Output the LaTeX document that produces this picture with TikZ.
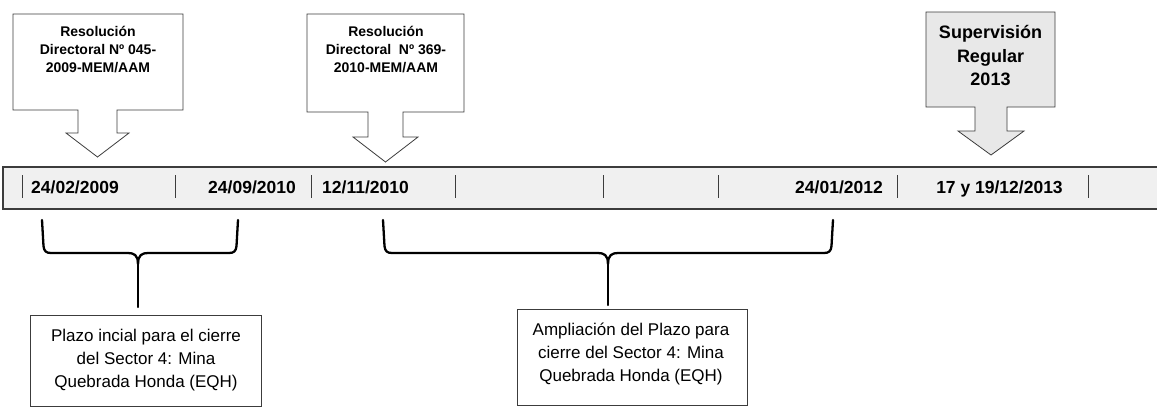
\documentclass[tikz,border=0pt]{standalone}
\usepackage{fontspec}
\setmainfont{Liberation Sans}
\usetikzlibrary{calc}
\definecolor{barfill}{RGB}{240,240,240}
\definecolor{boxgray}{RGB}{232,232,232}
\definecolor{lineg}{RGB}{60,60,60}
\begin{document}
\begin{tikzpicture}[x=1pt,y=-1pt,
  callst/.style={draw=lineg, line width=0.8pt, line join=miter},
  toptext/.style={font=\bfseries\fontsize{14}{18}\selectfont, align=center, inner sep=0pt, anchor=base},
  suptext/.style={font=\bfseries\fontsize{18}{23.5}\selectfont, align=center, inner sep=0pt, anchor=base},
  datetext/.style={font=\bfseries\fontsize{17.5}{20}\selectfont, inner sep=0pt},
  bottext/.style={font=\fontsize{17}{23}\selectfont, align=center, inner sep=0pt, anchor=base},
  botbox/.style={draw=lineg, line width=0.8pt, fill=white, inner sep=0pt, anchor=north west},
  datesep/.style={draw=lineg, line width=0.9pt},
  bracest/.style={line width=2.3pt, line join=round, line cap=round, black}]
\useasboundingbox (0,0) rectangle (1157,408);

% timeline bar
\fill[barfill] (3,167) rectangle (1160,209);
\draw[lineg, line width=1.2pt] (1160,167) -- (3,167) -- (3,209) -- (1160,209);
\foreach \xx in {22,175,311,455,603,718,897,1088}
  \draw[datesep] (\xx,175) -- (\xx,198);
\node[datetext, anchor=base west] (d1) at (31,193) {24/02/2009};
\node[datetext, anchor=base east] (d2) at (296,193) {24/09/2010};
\node[datetext, anchor=base west] (d3) at (322,193) {12/11/2010};
\node[datetext, anchor=base east] (d4) at (883,193) {24/01/2012};
\node[datetext, anchor=base] (d5) at (999.5,193) {17 y 19/12/2013};

% top callouts
\draw[callst, fill=white] (13,14) -- (183,14) -- (183,110) -- (117,110) -- (117,133) -- (129,133) -- (97.5,157) -- (66,133) -- (78,133) -- (78,110) -- (13,110) -- cycle;
\node[toptext] (t1) at (98,72.7) {Resolución\\Directoral Nº 045-\\2009-MEM/AAM};

\draw[callst, fill=white] (307,14) -- (464,14) -- (464,112) -- (403,112) -- (403,137) -- (418,137) -- (385.5,162) -- (353,137) -- (368,137) -- (368,112) -- (307,112) -- cycle;
\node[toptext] (t2) at (386,72.7) {Resolución\\Directoral~ Nº 369-\\2010-MEM/AAM};

\draw[callst, fill=boxgray] (926,12) -- (1055,12) -- (1055,107) -- (1007,107) -- (1007,131) -- (1024,131) -- (991,155) -- (958,131) -- (975,131) -- (975,107) -- (926,107) -- cycle;
\node[suptext] (t3) at (990.5,85.5) {Supervisión\\Regular\\2013};

% bottom boxes
\node[botbox, minimum width=231pt, minimum height=91pt] (b1) at (30,315) {};
\node[bottext] (bt1) at (146,387) {Plazo incial para el cierre\\del Sector 4: Mina\\Quebrada Honda (EQH)};
\node[botbox, minimum width=230pt, minimum height=96pt] (b2) at (517,309) {};
\node[bottext] (bt2) at (631,381.5) {Ampliación del Plazo para\\cierre del Sector 4: Mina\\Quebrada Honda (EQH)};

% braces
\coordinate (m1) at (138,264);
\coordinate (m2) at (608,264);
\draw[bracest] (42,220) -- (43.5,246) .. controls (44,251) and (46,253) .. (51,253) -- (128,253) .. controls (134,253) and (138,255) .. (m1);
\draw[bracest] (238,220) -- (236.5,246) .. controls (236,251) and (234,253) .. (229,253) -- (148,253) .. controls (142,253) and (138,255) .. (m1);
\draw[bracest, shorten >=8pt] (m1) -- (m1 |- b1.north);
\draw[bracest] (383,220) -- (384.5,246) .. controls (385,251) and (387,253) .. (392,253) -- (598,253) .. controls (604,253) and (608,255) .. (m2);
\draw[bracest] (833,220) -- (831.5,246) .. controls (831,251) and (829,253) .. (824,253) -- (618,253) .. controls (612,253) and (608,255) .. (m2);
\draw[bracest, shorten >=4pt] (m2) -- (m2 |- b2.north);
\end{tikzpicture}
\end{document}
